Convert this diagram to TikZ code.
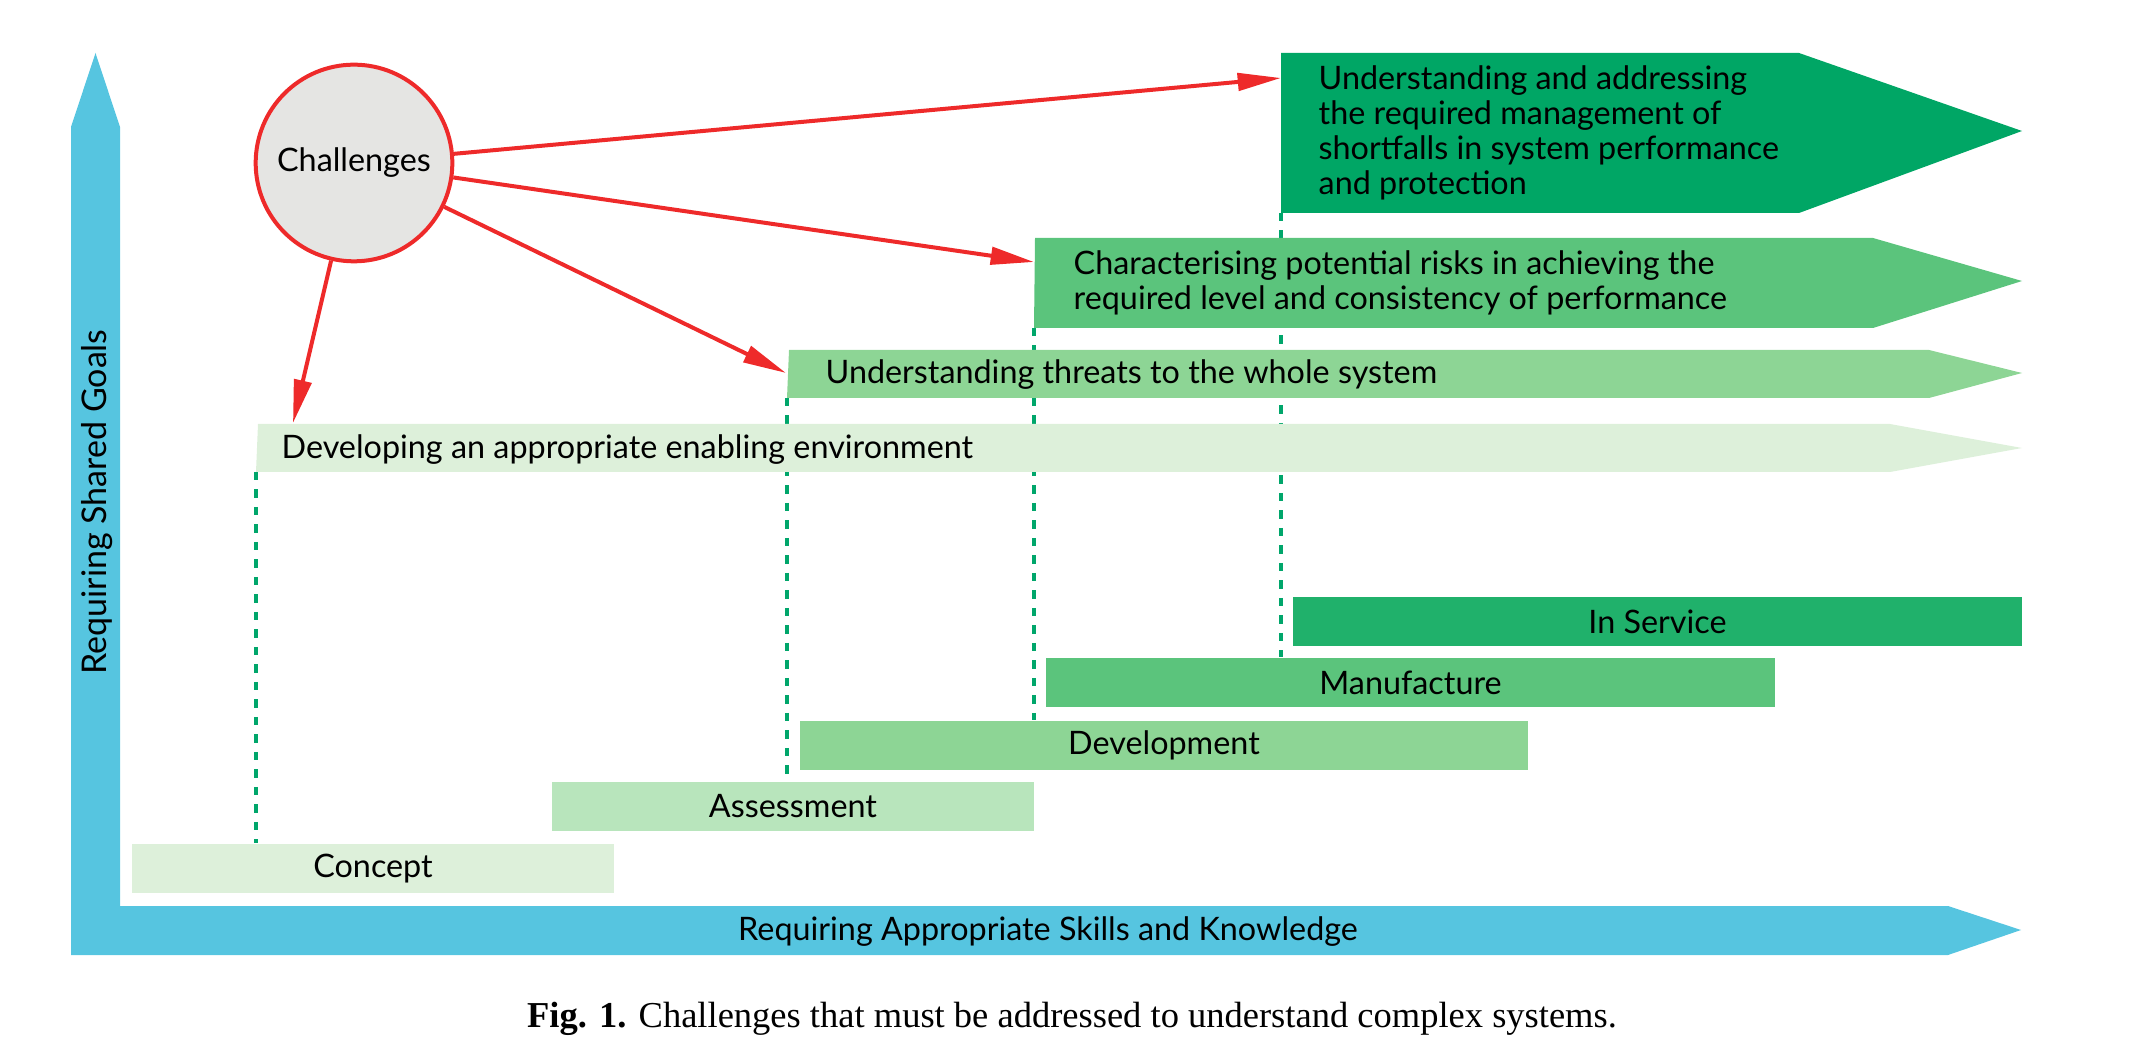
\documentclass[tikz,border=0pt]{standalone}
\usepackage{fontspec}
\setmainfont{Lato}
\newfontfamily\capfont{Liberation Serif}
\usetikzlibrary{arrows.meta}

\definecolor{axiscyan}{HTML}{56C5E0}
\definecolor{gA}{HTML}{00A665}
\definecolor{gB}{HTML}{5BC47C}
\definecolor{gC}{HTML}{8DD595}
\definecolor{gD}{HTML}{DDF0DA}
\definecolor{gE}{HTML}{B8E5BC}
\definecolor{gF}{HTML}{20B16B}
\definecolor{dashgreen}{HTML}{00A66B}
\definecolor{chred}{HTML}{EE2A2A}
\definecolor{chgray}{HTML}{E5E5E3}

\tikzset{
  lbl/.style={font=\fontsize{9.7}{10.5}\selectfont, inner sep=0pt, text=black},
  boxtext/.style={lbl, anchor=west, align=left},
  phase/.style={lbl, inner sep=0pt, minimum height={49*0.3pt}},
  guide/.style={draw=dashgreen, line width=1.2pt, dash pattern=on 2.5pt off 2.75pt},
  challenge/.style={draw=chred, line width=1.2pt, -{Triangle[length=13pt,width=5.2pt]}},
}

\begin{document}
\begin{tikzpicture}[x=0.3pt, y=-0.3pt]
\useasboundingbox (0,0) rectangle (2137,1053);

% axes: one L-shaped band with arrow heads at both ends
\fill[axiscyan] (71,955) -- (71,127) -- (95.5,53) -- (120,127) -- (120,906)
  -- (1948,906) -- (2021,930) -- (1948,955) -- cycle;
\node[lbl] (xlab) at (1048,932) {Requiring Appropriate Skills and Knowledge};
\node[lbl, font=\fontsize{10.2}{11}\selectfont, rotate=90] (ylab) at (97,502) {Requiring Shared Goals};

% lifecycle phases
\node[phase, fill=gD, minimum width={482*0.3pt}] (concept) at (373,868.5) {Concept};
\node[phase, fill=gE, minimum width={482*0.3pt}] (assess) at (793,806.5) {Assessment};
\node[phase, fill=gC, minimum width={728*0.3pt}] (develop) at (1164,745.5) {Development};
\node[phase, fill=gB, minimum width={729*0.3pt}] (manuf) at (1410.5,682.5) {Manufacture};
\node[phase, fill=gF, minimum width={729*0.3pt}] (service) at (1657.5,621.5) {In Service};

% lower-left corners of the challenge bands
\coordinate (envSW) at (256,472);
\coordinate (thrSW) at (787,398);
\coordinate (chaSW) at (1034,328);
\coordinate (topSW) at (1281,213);

% guides from each challenge band down to its phase
\draw[guide] (envSW) -- (envSW |- concept.north);
\draw[guide] (thrSW) -- (thrSW |- assess.north);
\draw[guide] (chaSW) -- (chaSW |- develop.north);
\draw[guide] (topSW) -- (topSW |- manuf.north);

% challenge bands
\fill[gD] (258,424) -- (1890,424) -- (2022,448) -- (1890,472) -- (envSW) -- cycle;
\fill[gC] (789,350) -- (1929,350) -- (2022,373) -- (1929,398) -- (thrSW) -- cycle;
\fill[gB] (1035,238) -- (1873,238) -- (2022,281) -- (1873,328) -- (chaSW) -- cycle;
\fill[gA] (1281,53) -- (1799,53) -- (2022,131) -- (1799,213) -- (topSW) -- cycle;

\node[boxtext] (env) at (281,450) {Developing an appropriate enabling environment};
\node[boxtext] (thr) at (825,375) {Understanding threats to the whole system};
\node[boxtext] (cha) at (1073,282.5) {Characterising potential risks in achieving the\\required level and consistency of performance};
\node[boxtext] (top) at (1318,132.5) {Understanding and addressing\\the required management of\\shortfalls in system performance\\and protection};

% entry points of the challenge arrows
\coordinate (envIn) at (293,423);
\coordinate (thrIn) at (786,373);
\coordinate (chaIn) at (1034,262);
\coordinate (topIn) at (1281,78);

% challenges hub
\node[circle, draw=chred, line width=1.2pt, fill=chgray, minimum size=59pt,
  inner sep=0pt, lbl] (chal) at (354,163) {Challenges};

\draw[challenge] (chal) -- (topIn);
\draw[challenge] (chal) -- (chaIn);
\draw[challenge] (chal) -- (thrIn);
\draw[challenge] (chal) -- (envIn);

% caption
\node[inner sep=0pt, font=\capfont\fontsize{10.95}{12}\selectfont] (caption) at (1072,1019)
  {\textbf{Fig. 1.} Challenges that must be addressed to understand complex systems.};
\end{tikzpicture}
\end{document}
